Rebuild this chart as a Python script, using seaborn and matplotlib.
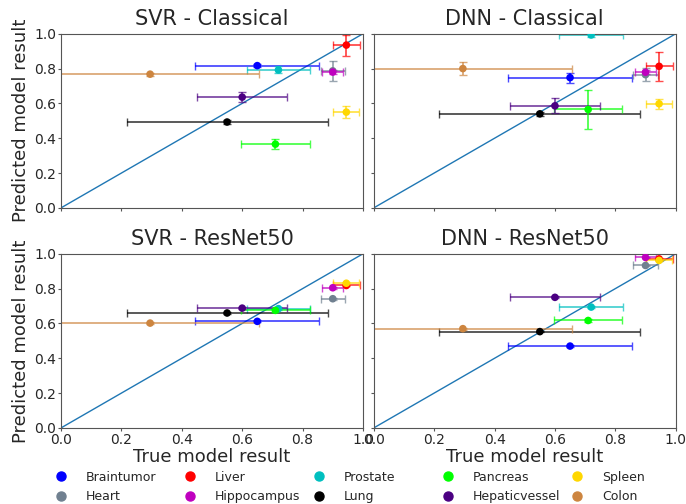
import pandas as pd
import numpy as np
import matplotlib.pyplot as plt
import seaborn as sns

# datasets (legend order)
datasets = ["Braintumor", "Heart", "Liver", "Hippocampus", "Prostate",
            "Lung", "Pancreas", "Hepaticvessel", "Spleen", "Colon"]
colors = ["blue", "slategray", "red", "m", "c",
          "black", "lime", "indigo", "gold", "peru"]

# true model result (same in every panel)
true_val = [0.65, 0.90, 0.945, 0.90, 0.72, 0.55, 0.71, 0.60, 0.945, 0.295]
true_err = [0.205, 0.04, 0.045, 0.035, 0.105, 0.333, 0.113, 0.15, 0.043, 0.36]

# predicted results per panel
svr_cls = [0.817, 0.787, 0.935, 0.78, 0.792, 0.493, 0.366, 0.636, 0.55, 0.768]
svr_cls_err = [0.01, 0.057, 0.06, 0.01, 0.02, 0.012, 0.03, 0.029, 0.035, 0.008]
dnn_cls = [0.748, 0.765, 0.813, 0.779, 0.993, 0.54, 0.565, 0.586, 0.598, 0.80]
dnn_cls_err = [0.029, 0.038, 0.084, 0.01, 0.01, 0.012, 0.114, 0.043, 0.029, 0.037]
svr_res = [0.612, 0.742, 0.818, 0.805, 0.685, 0.66, 0.675, 0.688, 0.831, 0.602]
svr_res_err = [0.005, 0.005, 0.005, 0.005, 0.008, 0.005, 0.01, 0.005, 0.005, 0.005]
dnn_res = [0.47, 0.933, 0.971, 0.979, 0.694, 0.553, 0.617, 0.75, 0.962, 0.57]
dnn_res_err = [0.005, 0.005, 0.005, 0.005, 0.005, 0.005, 0.01, 0.005, 0.005, 0.005]

panels = [("SVR - Classical", svr_cls, svr_cls_err),
          ("DNN - Classical", dnn_cls, dnn_cls_err),
          ("SVR - ResNet50", svr_res, svr_res_err),
          ("DNN - ResNet50", dnn_res, dnn_res_err)]

sns.set_style("ticks")
plt.rcParams["axes.edgecolor"] = "#555555"

fig, axes = plt.subplots(2, 2, figsize=(6.86, 5.04), dpi=100, sharex=True, sharey=True)
fig.subplots_adjust(left=0.089, right=0.985, top=0.933, bottom=0.151,
                    wspace=0.036, hspace=0.264)

palette = dict(zip(datasets, colors))
for ax, (title, pred, pred_err) in zip(axes.flat, panels):
    df = pd.DataFrame({"dataset": datasets, "x": true_val, "y": pred})
    ax.plot([0, 1], [0, 1], color="C0", lw=1)
    for i, d in enumerate(datasets):
        ax.errorbar(true_val[i], pred[i], xerr=true_err[i], yerr=pred_err[i],
                    fmt="none", ecolor=colors[i], alpha=0.7, capsize=3, lw=1.3)
    sns.scatterplot(data=df, x="x", y="y", hue="dataset", palette=palette,
                    hue_order=datasets, s=30, edgecolor="none", ax=ax,
                    legend=False, zorder=5)
    ax.set_xlim(0, 1)
    ax.set_ylim(0, 1)
    ax.set_title(title, fontsize=15)
    ax.set_xlabel("")
    ax.set_ylabel("")
    ax.tick_params(labelsize=10, direction="out", length=2, pad=1.5, color="#555555")

for ax in axes[:, 0]:
    ax.set_ylabel("Predicted model result", fontsize=13, labelpad=3)
for ax in axes[1, :]:
    ax.set_xlabel("True model result", fontsize=13, labelpad=1)
    ax.set_xticks(np.arange(0, 1.01, 0.2))

# legend: five equally spaced columns of two entries
handles = [plt.Line2D([], [], marker="o", ls="none", color=c, markersize=6.5)
           for c in colors]
for j in range(5):
    fig.legend(handles[2 * j:2 * j + 2], datasets[2 * j:2 * j + 2],
               loc="upper left", bbox_to_anchor=(0.0707 + 0.188 * j, 0.066),
               frameon=False, fontsize=9, borderpad=0, borderaxespad=0,
               handletextpad=1.0, labelspacing=0.5)

plt.savefig("out.png", dpi=100)
plt.close()
